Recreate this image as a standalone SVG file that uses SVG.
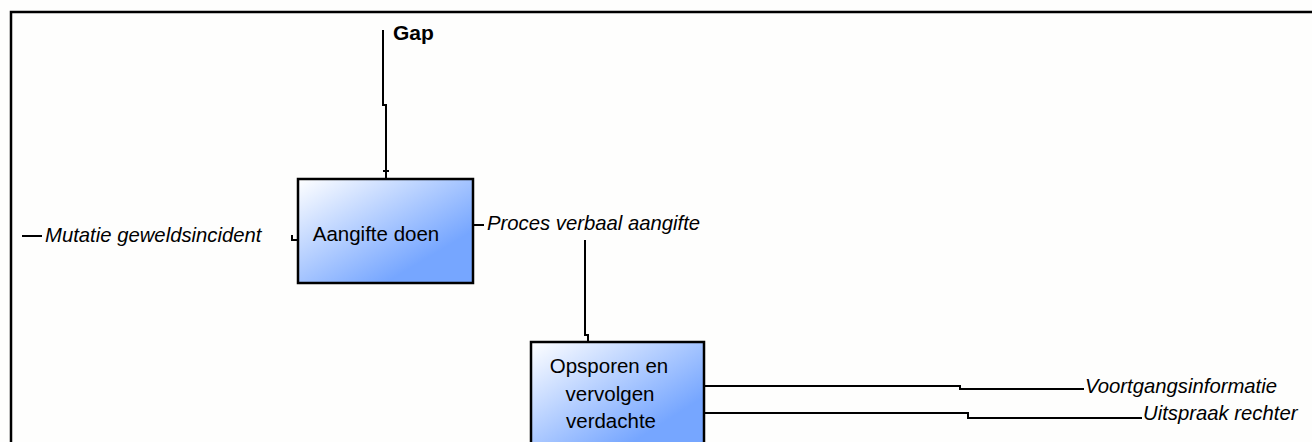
<svg xmlns="http://www.w3.org/2000/svg" width="1312" height="442" viewBox="0 0 1312 442">
  <defs>
    <linearGradient id="boxfill" x1="0" y1="0" x2="0.75" y2="0.75">
      <stop offset="0" stop-color="#ffffff"/>
      <stop offset="1" stop-color="#76a6ff"/>
    </linearGradient>
    <style>
      .box { fill: url(#boxfill); stroke: #000; stroke-width: 2.5; }
      .wire { fill: none; stroke: #000; stroke-width: 2; }
      .frame { fill: none; stroke: #000; stroke-width: 2.5; }
      .lbl { font-family: "Liberation Sans", Arial, sans-serif; font-size: 20.3px; font-style: italic; fill: #000; }
      .btx { font-family: "Liberation Sans", Arial, sans-serif; font-size: 20.5px; fill: #000; }
      .gap { font-family: "Liberation Sans", Arial, sans-serif; font-size: 21px; font-weight: bold; fill: #000; }
    </style>
  </defs>
  <rect x="0" y="0" width="1312" height="442" fill="#fefefd"/>
  <path class="frame" d="M11,442 V12 H1312"/>

  <g id="connectors">
    <path class="wire" d="M383,30 V105 H386 V179"/>
    <path class="wire" d="M383,171 H389"/>
    <path class="wire" d="M22,236 H42"/>
    <path class="wire" d="M292,235 V240 H298"/>
    <path class="wire" d="M474,225 H484"/>
    <path class="wire" d="M585,240 V335 H588 V342"/>
    <path class="wire" d="M704,386 H960 V389 H1084"/>
    <path class="wire" d="M704,413 H968 V418 H1142"/>
  </g>

  <g id="label-gap"><text class="gap" x="393" y="40">Gap</text></g>
  <g id="label-mutatie"><text class="lbl" x="45" y="242">Mutatie geweldsincident</text></g>
  <g id="label-pv"><text class="lbl" x="487" y="230">Proces verbaal aangifte</text></g>
  <g id="label-voortgang"><text class="lbl" x="1085" y="393">Voortgangsinformatie</text></g>
  <g id="label-uitspraak"><text class="lbl" x="1143" y="420">Uitspraak rechter</text></g>

  <g id="node-aangifte">
    <rect class="box" x="298" y="179" width="175" height="104"/>
    <text class="btx" x="376" y="241" text-anchor="middle">Aangifte doen</text>
  </g>

  <g id="node-opsporen">
    <rect class="box" x="531" y="342" width="173" height="110"/>
    <text class="btx" x="609" y="373" text-anchor="middle">Opsporen en</text>
    <text class="btx" x="610" y="401" text-anchor="middle">vervolgen</text>
    <text class="btx" x="611" y="428" text-anchor="middle">verdachte</text>
  </g>
</svg>
